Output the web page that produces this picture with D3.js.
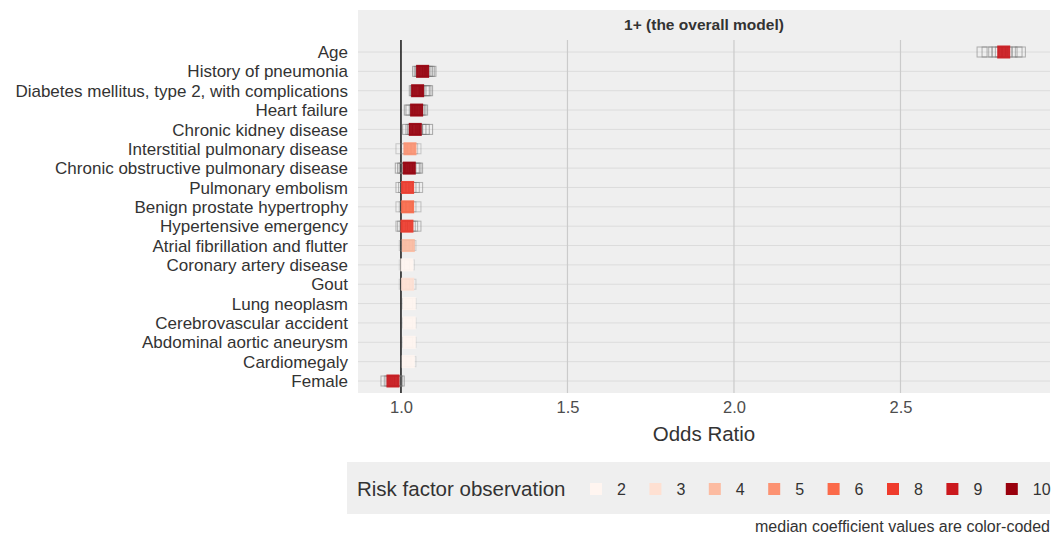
<!DOCTYPE html>
<html><head><meta charset="utf-8">
<script src="https://cdn.jsdelivr.net/npm/d3@7"></script>
<style>body{margin:0;background:#fff}svg{display:block;font-family:"Liberation Sans",Arial,sans-serif}</style>
</head><body><svg id="c" width="1052" height="538"></svg>
<script>
const factors = ["Age","History of pneumonia","Diabetes mellitus, type 2, with complications","Heart failure","Chronic kidney disease","Interstitial pulmonary disease","Chronic obstructive pulmonary disease","Pulmonary embolism","Benign prostate hypertrophy","Hypertensive emergency","Atrial fibrillation and flutter","Coronary artery disease","Gout","Lung neoplasm","Cerebrovascular accident","Abdominal aortic aneurysm","Cardiomegaly","Female"];
const medians = [2.81,1.065,1.05,1.047,1.043,1.027,1.025,1.02,1.02,1.018,1.022,1.018,1.02,1.025,1.025,1.025,1.022,0.976];
const observations = [9,10,10,10,10,5,10,8,6,8,4,2,3,2,2,2,2,9];
const coefficients = [
 [2.745,2.76,2.78,2.79,2.80,2.82,2.835,2.85,2.86],
 [1.05,1.055,1.06,1.06,1.065,1.07,1.075,1.08,1.085,1.09],
 [1.04,1.045,1.045,1.05,1.05,1.055,1.06,1.07,1.075,1.08],
 [1.025,1.03,1.04,1.045,1.045,1.05,1.05,1.055,1.06,1.065],
 [1.02,1.03,1.035,1.04,1.04,1.045,1.05,1.06,1.07,1.08],
 [1.0,1.015,1.025,1.035,1.045],
 [0.998,1.005,1.01,1.02,1.025,1.025,1.03,1.04,1.045,1.05],
 [1.0,1.008,1.015,1.02,1.02,1.03,1.04,1.05],
 [1.0,1.01,1.02,1.02,1.03,1.045],
 [1.0,1.005,1.012,1.018,1.02,1.028,1.035,1.045],
 [1.01,1.02,1.025,1.03],
 [1.01,1.025],
 [1.01,1.02,1.03],
 [1.02,1.03],
 [1.02,1.03],
 [1.02,1.03],
 [1.015,1.03],
 [0.955,0.965,0.97,0.975,0.976,0.98,0.985,0.99,0.995]
];
const legendLevels = [2,3,4,5,6,8,9,10];
const legendColors = ["#fff5f0","#fee0d2","#fcbba1","#fc9272","#fb6a4a","#ef3b2c","#cb181d","#99000d"];
const xTicks = [1.0,1.5,2.0,2.5];

const svg = d3.select("#c");
const panel = {l:358, r:1050, t:40, b:393};
const x = d3.scaleLinear().domain([0.871,2.949]).range([panel.l,panel.r]);
const y = d3.scalePoint().domain(factors).range([52,381]);
const color = d3.scaleOrdinal().domain(legendLevels).range(legendColors);

// panel + strip background
svg.append("rect").attr("x",panel.l).attr("y",10).attr("width",panel.r-panel.l).attr("height",panel.b-10).attr("fill","#efefef");
svg.append("text").attr("x",(panel.l+panel.r)/2).attr("y",30).attr("text-anchor","middle")
  .attr("font-size",15.5).attr("font-weight","bold").attr("fill","#333").text("1+ (the overall model)");

// gridlines
svg.append("g").selectAll("line").data(factors).join("line")
  .attr("x1",panel.l).attr("x2",panel.r).attr("y1",d=>y(d)).attr("y2",d=>y(d))
  .attr("stroke","#dcdcdc").attr("stroke-width",1);
svg.append("g").selectAll("line").data(xTicks.slice(1)).join("line")
  .attr("x1",d=>x(d)).attr("x2",d=>x(d)).attr("y1",panel.t).attr("y2",panel.b)
  .attr("stroke","#cbcbcb").attr("stroke-width",1.2);

// reference line
svg.append("line").attr("x1",x(1)).attr("x2",x(1)).attr("y1",panel.t).attr("y2",panel.b)
  .attr("stroke","#222").attr("stroke-width",1.6);

// individual coefficients (hollow)
const hs = 10;
factors.forEach((f,i)=>{
  const op = 0.1 + 0.05*observations[i];
  svg.append("g").selectAll("rect").data(coefficients[i]).join("rect")
    .attr("x",d=>x(d)-hs/2).attr("y",y(f)-hs/2).attr("width",hs).attr("height",hs)
    .attr("fill","none").attr("stroke","#777").attr("stroke-opacity",op).attr("stroke-width",1);
});
// medians
const ms = 13;
svg.append("g").selectAll("rect").data(factors).join("rect")
  .attr("x",(d,i)=>x(medians[i])-ms/2).attr("y",d=>y(d)-ms/2).attr("width",ms).attr("height",ms)
  .attr("fill",(d,i)=>color(observations[i])).attr("fill-opacity",0.92);

// y labels
svg.append("g").selectAll("text").data(factors).join("text")
  .attr("x",348).attr("y",d=>y(d)).attr("dy","0.36em").attr("text-anchor","end")
  .attr("font-size",17).attr("fill","#333").text(d=>d);

// x axis
const xa = svg.append("g").attr("transform",`translate(0,${panel.b})`)
  .call(d3.axisBottom(x).tickValues(xTicks).tickFormat(d3.format(".1f")).tickSize(0).tickPadding(8));
xa.select(".domain").remove();
xa.selectAll("text").attr("font-size",16.5).attr("fill","#4d4d4d").attr("font-family","Liberation Sans, Arial, sans-serif");
svg.append("text").attr("x",(panel.l+panel.r)/2).attr("y",441).attr("text-anchor","middle")
  .attr("font-size",20.5).attr("fill","#333").text("Odds Ratio");

// legend
svg.append("rect").attr("x",347).attr("y",462).attr("width",703).attr("height",52).attr("fill","#efefef");
svg.append("text").attr("x",357).attr("y",496).attr("font-size",20.5).attr("fill","#333").text("Risk factor observation");
const lg = svg.append("g").selectAll("g").data(legendLevels).join("g")
  .attr("transform",(d,i)=>`translate(${596+i*59.4},489)`);
lg.append("rect").attr("x",-6).attr("y",-6).attr("width",12).attr("height",12).attr("fill",d=>color(d));
lg.append("text").attr("x",21).attr("dy","0.36em").attr("font-size",16).attr("fill","#333").text(d=>d);

svg.append("text").attr("x",1050).attr("y",532).attr("text-anchor","end")
  .attr("font-size",16).attr("fill","#333").text("median coefficient values are color-coded");
</script></body></html>
